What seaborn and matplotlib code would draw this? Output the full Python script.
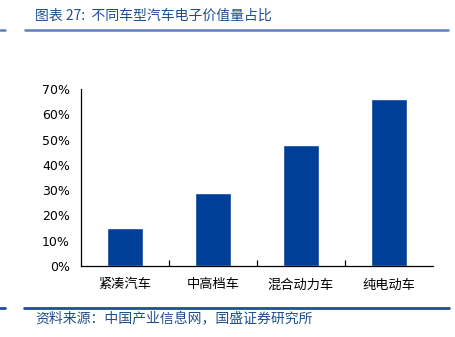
import matplotlib
matplotlib.use("Agg")
import matplotlib.pyplot as plt
from matplotlib.lines import Line2D
from matplotlib.ticker import FixedLocator, PercentFormatter
import seaborn as sns
import pandas as pd

# Share of automotive electronics in vehicle cost, by vehicle type
categories = ["紧凑汽车", "中高档车", "混合动力车", "纯电动车"]
shares = [15, 28.7, 47.8, 66]
y_ticks = [0, 10, 20, 30, 40, 50, 60, 70]

title = "图表 27:  不同车型汽车电子价值量占比"
source = "资料来源：中国产业信息网，国盛证券研究所"

sns.set_theme(style="white")
plt.rcParams["font.family"] = ["Noto Sans CJK SC", "DejaVu Sans"]

df = pd.DataFrame({"车型": categories, "占比": shares})

fig = plt.figure(figsize=(4.56, 3.37), dpi=100)
ax = fig.add_axes([0.1776, 0.2107, 0.7720, 0.5252])

sns.barplot(data=df, x="车型", y="占比", color="#003F98", saturation=1,
            width=0.42, ax=ax)

ax.set_xlim(-0.5, len(categories) - 0.5)
ax.set_ylim(0, 70)
ax.yaxis.set_major_locator(FixedLocator(y_ticks))
ax.yaxis.set_major_formatter(PercentFormatter(decimals=0))
ax.set_xlabel("")
ax.set_ylabel("")

for side in ("top", "right"):
    ax.spines[side].set_visible(False)
for side in ("left", "bottom"):
    ax.spines[side].set_color("black")
    ax.spines[side].set_linewidth(0.9)

ax.tick_params(axis="y", length=0, pad=8, labelsize=9, labelcolor="black")
ax.tick_params(axis="x", length=0, pad=9, labelsize=9.5, labelcolor="black")
for lbl in ax.get_yticklabels():
    lbl.set_fontfamily("DejaVu Sans")
for lbl in ax.get_xticklabels():
    lbl.set_fontweight("light")

# small inward ticks between categories
ax.xaxis.set_minor_locator(FixedLocator([0.5, 1.5, 2.5]))
ax.tick_params(axis="x", which="minor", direction="in", length=4,
               width=0.9, color="black", bottom=True)

# header and footer
fig.text(0.077, 0.955, title, fontsize=10, color="#1F4E8C", style="italic",
         fontweight="light", ha="left", va="center")
fig.add_artist(Line2D([0.055, 0.983], [0.912, 0.912], color="#5B7EBD",
                      linewidth=1.8, transform=fig.transFigure))
fig.add_artist(Line2D([0.0, 0.01], [0.912, 0.912], color="#5B7EBD",
                      linewidth=1.8, transform=fig.transFigure))
fig.add_artist(Line2D([0.053, 0.985], [0.086, 0.086], color="#1F4E9A",
                      linewidth=2.0, transform=fig.transFigure))
fig.add_artist(Line2D([0.0, 0.01], [0.086, 0.086], color="#1F4E9A",
                      linewidth=2.0, transform=fig.transFigure))
fig.text(0.077, 0.055, source, fontsize=10, color="#1F4E8C", style="italic",
         fontweight="light", ha="left", va="center")

fig.savefig("out.png", dpi=100, facecolor="white")
